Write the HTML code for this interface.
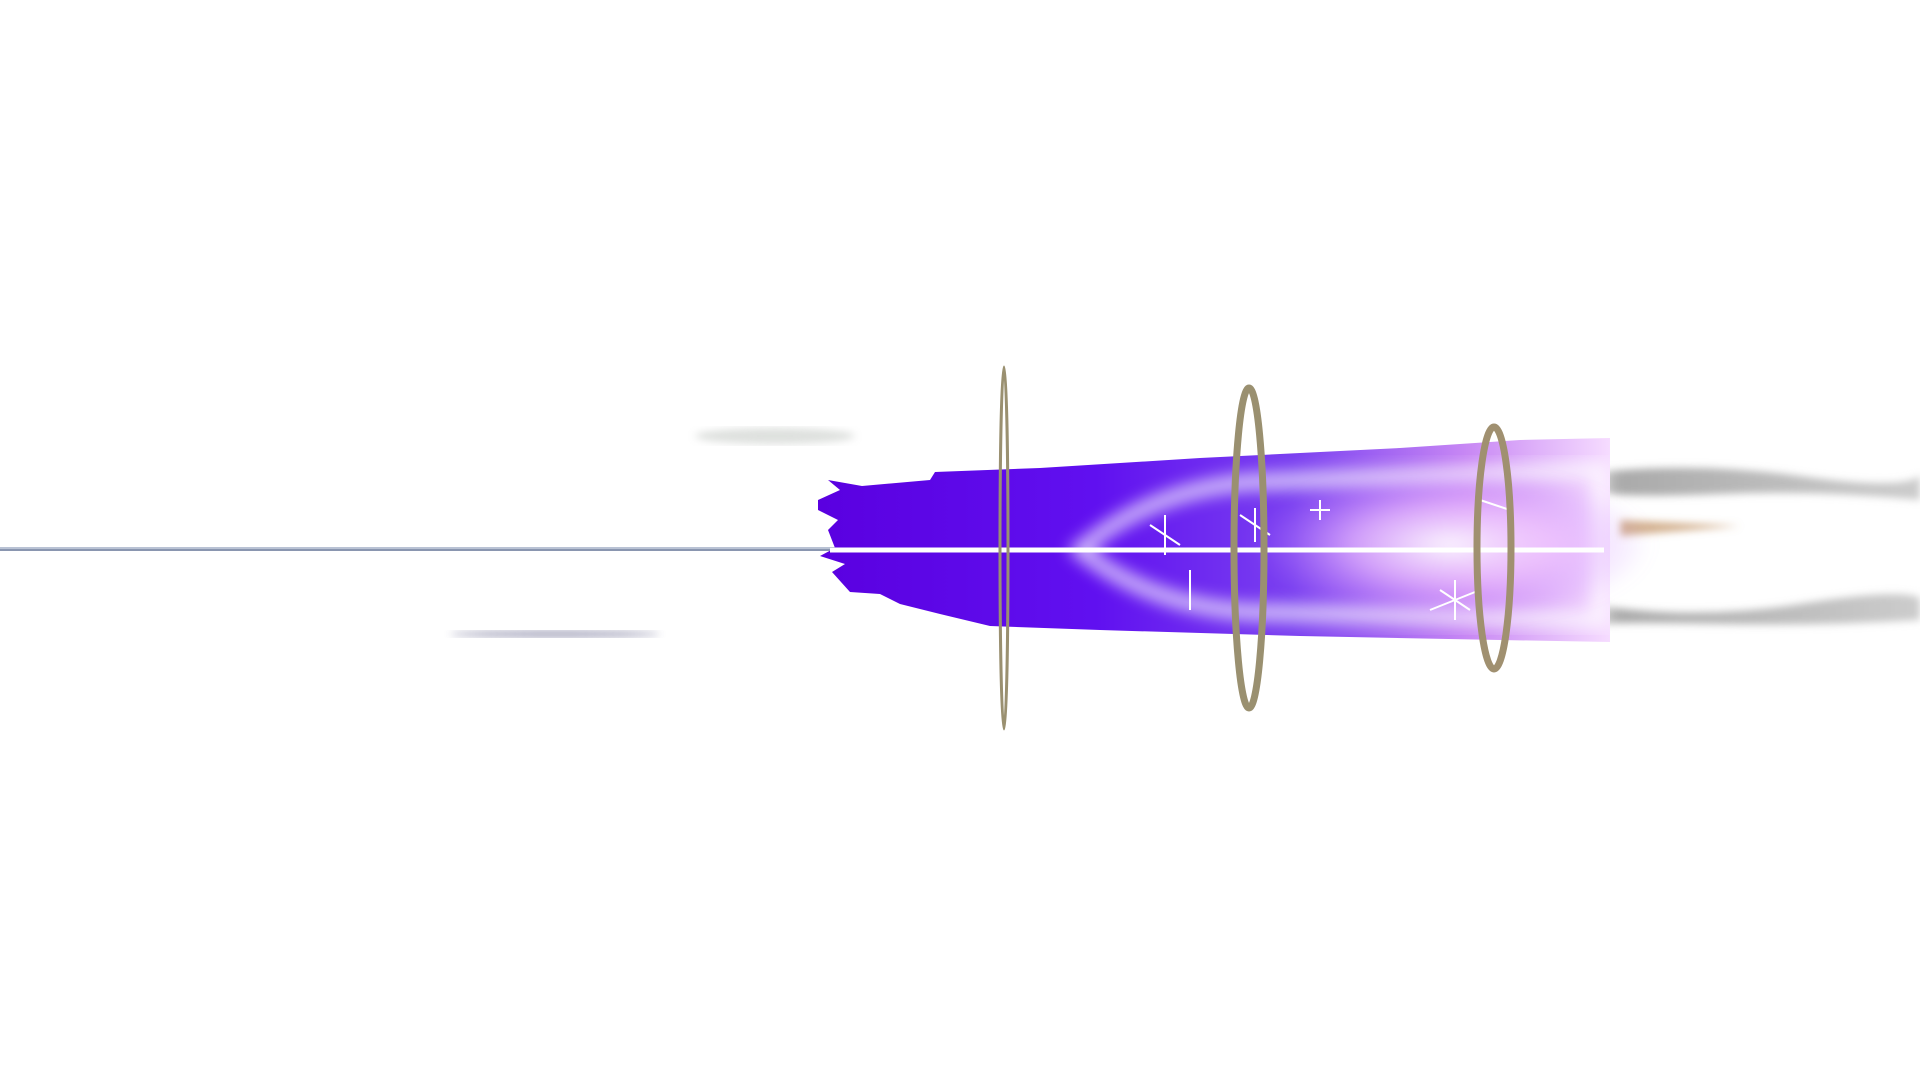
<!DOCTYPE html>
<html><head><meta charset="utf-8"><style>
html,body{margin:0;padding:0;background:#fff;width:1920px;height:1080px;overflow:hidden}
svg{display:block}
</style></head><body>
<svg width="1920" height="1080" viewBox="0 0 1920 1080">
<defs>
<linearGradient id="body" x1="0" x2="1" y1="0" y2="0">
<stop offset="0" stop-color="#5a00e0"/><stop offset="0.35" stop-color="#6010f0"/>
<stop offset="0.6" stop-color="#7a40f0"/><stop offset="0.82" stop-color="#c888f4"/><stop offset="1" stop-color="#f6dcff"/>
</linearGradient>
<radialGradient id="glow" cx="0.5" cy="0.5" r="0.5">
<stop offset="0" stop-color="#ffffff" stop-opacity="0.95"/><stop offset="0.5" stop-color="#f4c8ff" stop-opacity="0.6"/><stop offset="1" stop-color="#c080ff" stop-opacity="0"/>
</radialGradient>
<linearGradient id="smoke" x1="0" x2="1"><stop offset="0" stop-color="#a8a8a8"/><stop offset="1" stop-color="#cccccc"/></linearGradient>
<filter id="blur4"><feGaussianBlur stdDeviation="4"/></filter>
<filter id="blur8"><feGaussianBlur stdDeviation="8"/></filter>
</defs>
<ellipse cx="555" cy="634" rx="105" ry="3" fill="#8080a0" filter="url(#blur4)" opacity="0.8"/>
<ellipse cx="775" cy="436" rx="80" ry="8" fill="#c8ccc8" filter="url(#blur4)" opacity="0.6"/>
<g filter="url(#blur4)">
<path d="M1600 472 Q1700 462 1800 476 T1920 476 L1920 500 Q1820 490 1720 494 T1600 492Z" fill="url(#smoke)"/>
<path d="M1600 606 Q1700 620 1800 604 T1920 598 L1920 620 Q1820 626 1720 624 T1600 624Z" fill="url(#smoke)"/>
<path d="M1620 520 L1740 526 L1620 536Z" fill="#c09060" opacity="0.7"/>
</g>
<line x1="0" y1="549" x2="840" y2="549" stroke="#8a96b0" stroke-width="4"/>
<line x1="0" y1="548" x2="840" y2="548" stroke="#e8eef8" stroke-width="1"/>
<path d="M818 500 L840 490 L828 480 L862 486 L930 480 L935 472 L1040 468 L1200 458 L1400 448 L1520 440 L1610 438 L1610 642 L1500 640 L1300 636 L1100 630 L990 626 L940 614 L900 604 L880 594 L850 592 L832 572 L845 564 L820 556 L835 548 L828 530 L838 520 L818 510Z" fill="url(#body)"/>
<path d="M1080 550 Q1150 490 1250 482 L1600 470 L1600 620 L1250 612 Q1150 606 1080 550Z" fill="none" stroke="#ffffff" stroke-width="16" opacity="0.7" filter="url(#blur8)"/>
<ellipse cx="1450" cy="545" rx="200" ry="75" fill="url(#glow)" filter="url(#blur8)"/>
<line x1="830" y1="550" x2="1604" y2="550" stroke="#ffffff" stroke-width="5"/>
<g stroke="#fff" stroke-width="2">
<path d="M1240 515 l30 20 M1255 508 l0 34"/><path d="M1150 525 l30 20 M1165 515 l0 40"/>
<path d="M1320 500 l0 20 M1310 510 l20 0"/><path d="M1440 590 l30 20 M1455 580 l0 40 M1430 610 l50 -20"/>
<path d="M1190 570 l0 40"/><path d="M1480 500 l30 10"/>
</g>
<ellipse cx="1004" cy="548" rx="4" ry="181" fill="none" stroke="#9a9070" stroke-width="3"/>
<ellipse cx="1249" cy="548" rx="15" ry="160" fill="none" stroke="#9a9070" stroke-width="7"/>
<ellipse cx="1494" cy="548" rx="17" ry="121" fill="none" stroke="#a09070" stroke-width="7"/>
</svg>
</body></html>
